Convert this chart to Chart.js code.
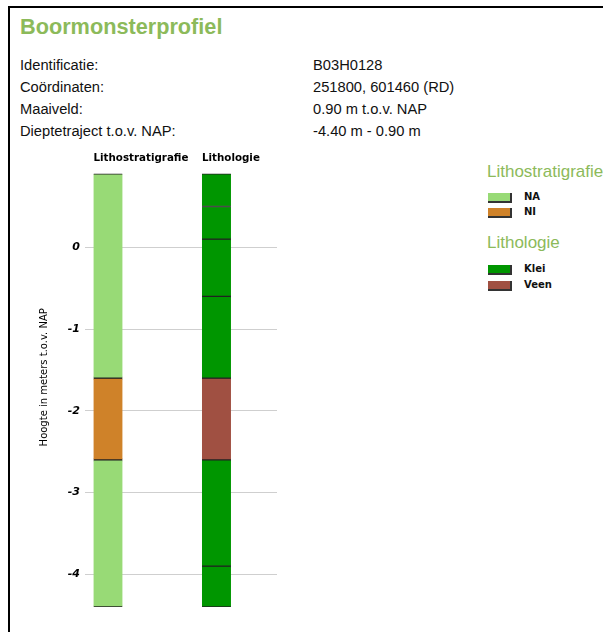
<!DOCTYPE html>
<html>
<head>
<meta charset="utf-8">
<script src="https://cdn.jsdelivr.net/npm/chart.js@4"></script>
<style>
  body { margin: 0; background: #fff; font-family: 'Liberation Sans', Arial, sans-serif; }
  #frame { position: absolute; left: 8px; top: 6px; width: 600px; height: 630px; border-top: 2px solid #000; border-left: 2px solid #000; }
  #title { position: absolute; left: 20px; top: 16px; font-size: 21.7px; font-weight: bold; color: #8cba5a; line-height: 1; }
  .row { position: absolute; left: 20px; font-size: 14.7px; color: #111; line-height: 1; }
  .val { left: 313px; }
  #chartBox { position: absolute; left: 0; top: 136px; width: 290px; height: 484px; }
  .lgTitle { position: absolute; left: 487px; font-size: 17px; color: #8cba5a; line-height: 1; white-space: nowrap; }
  .sw { position: absolute; left: 488px; width: 22px; height: 8px; border-right: 2px solid #333; border-bottom: 2px solid #333; }
  .lgTxt { position: absolute; left: 524px; font-family: 'DejaVu Sans', sans-serif; font-size: 10px; font-weight: bold; color: #111; line-height: 1; }
</style>
</head>
<body>
<div id="frame"></div>
<div id="title">Boormonsterprofiel</div>
<div id="info"></div>
<div id="chartBox"><canvas id="profiel"></canvas></div>
<div id="legend"></div>
<script>
const infoLabels = ['Identificatie:', 'Coördinaten:', 'Maaiveld:', 'Dieptetraject t.o.v. NAP:']
const infoValues = ['B03H0128', '251800, 601460 (RD)', '0.90 m t.o.v. NAP', '-4.40 m - 0.90 m']

const columns = ['Lithostratigrafie', 'Lithologie']

// lagen lithostratigrafie (m t.o.v. NAP)
const stratTop = [0.9, -1.6, -2.6]
const stratBottom = [-1.6, -2.6, -4.4]
const stratUnit = ['NA', 'NI', 'NA']

// lagen lithologie
const lithoTop = [0.9, 0.5, 0.1, -0.6, -1.6, -2.6, -3.9]
const lithoBottom = [0.5, 0.1, -0.6, -1.6, -2.6, -3.9, -4.4]
const lithoUnit = ['Klei', 'Klei', 'Klei', 'Klei', 'Veen', 'Klei', 'Klei']

const yTicks = [0, -1, -2, -3, -4]

const stratLegend = ['NA', 'NI']
const lithoLegend = ['Klei', 'Veen']

const kleuren = {
  NA: '#98da76',
  NI: '#cf8229',
  Klei: '#009600',
  Veen: '#a05042'
}

// info tabel
const info = document.getElementById('info')
infoLabels.forEach((lbl, i) => {
  const top = 58 + i * 22
  info.innerHTML += '<div class="row" style="top:' + top + 'px">' + lbl + '</div>'
  info.innerHTML += '<div class="row val" style="top:' + top + 'px">' + infoValues[i] + '</div>'
})

// legenda
function legendGroup(title, items, top, rowTops) {
  let html = '<div class="lgTitle" style="top:' + top + 'px">' + title + '</div>'
  items.forEach((it, i) => {
    html += '<span class="sw" style="top:' + (rowTops[i] - 5) + 'px;background:' + kleuren[it] + '"></span>'
    html += '<span class="lgTxt" style="top:' + (rowTops[i] - 6) + 'px">' + it + '</span>'
  })
  return html
}
document.getElementById('legend').innerHTML =
  legendGroup(columns[0], stratLegend, 163, [198, 213]) +
  legendGroup(columns[1], lithoLegend, 234, [270, 286])

// datasets: elke laag een zwevende staaf
const datasets = []
stratTop.forEach((t, i) => {
  datasets.push({
    label: stratUnit[i],
    data: [{ x: 0, y: [t, stratBottom[i]] }],
    backgroundColor: kleuren[stratUnit[i]]
  })
})
lithoTop.forEach((t, i) => {
  datasets.push({
    label: lithoUnit[i],
    data: [{ x: 1, y: [t, lithoBottom[i]] }],
    backgroundColor: kleuren[lithoUnit[i]]
  })
})

const ctx = document.getElementById('profiel').getContext('2d')

const config = {
  type: 'bar',
  data: { datasets },
  options: {
    responsive: true,
    maintainAspectRatio: false,
    animation: false,
    layout: { padding: { left: 0, right: 13, top: 0, bottom: 13 } },
    datasets: {
      bar: {
        grouped: false,
        barThickness: 29,
        borderColor: '#222',
        borderWidth: { top: 1, bottom: 1, left: 0, right: 0 },
        borderSkipped: false
      }
    },
    plugins: {
      legend: { display: false },
      tooltip: { enabled: false }
    },
    scales: {
      x: {
        type: 'linear',
        position: 'top',
        offset: false,
        min: -0.212,
        max: 1.558,
        afterBuildTicks: s => { s.ticks = columns.map((c, i) => ({ value: i })) },
        afterFit: s => { s.height = 7 },
        grid: { display: false, offset: false },
        border: { display: false },
        ticks: {
          autoSkip: false,
          maxRotation: 0,
          mirror: true,
          align: 'start',
          labelOffset: -14.5,
          padding: 5,
          color: '#000',
          font: { family: 'DejaVu Sans', size: 10.3, weight: 'bold' },
          callback: v => columns[v]
        }
      },
      y: {
        min: -4.4,
        max: 1.22,
        afterBuildTicks: s => { s.ticks = yTicks.map(v => ({ value: v })) },
        afterFit: s => { s.width = 85 },
        grid: { color: '#cfcfcf', drawTicks: false },
        border: { display: false },
        ticks: {
          padding: 5,
          color: '#000',
          font: { family: 'DejaVu Sans', size: 11, weight: 'bold', style: 'italic' }
        },
        title: {
          display: true,
          text: 'Hoogte in meters t.o.v. NAP',
          color: '#000',
          padding: { top: 38, bottom: 0 },
          font: { family: 'DejaVu Sans', size: 10 }
        }
      }
    }
  }
}

const profielChart = new Chart(ctx, config)
</script>
</body>
</html>
